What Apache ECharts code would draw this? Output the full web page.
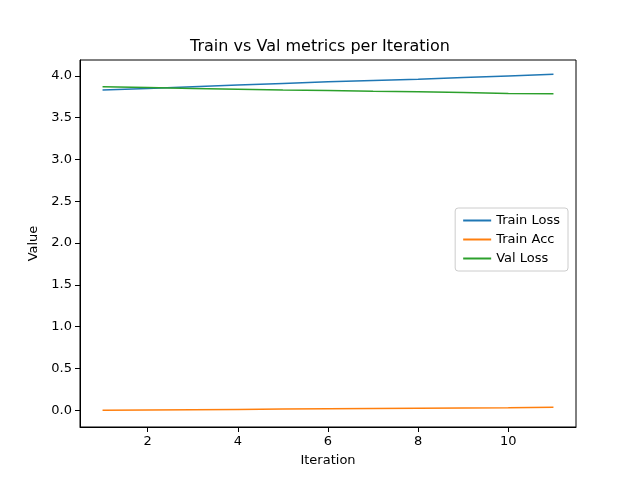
<!DOCTYPE html>
<html><head><meta charset="utf-8">
<script src="https://cdn.jsdelivr.net/npm/echarts@6/dist/echarts.min.js"></script>
<style>body{margin:0}#c{width:640px;height:480px}</style></head>
<body><div id="c"></div>
<script>
const iterations = [1,2,3,4,5,6,7,8,9,10,11];
const trainLoss = [3.83,3.85,3.87,3.89,3.91,3.93,3.945,3.96,3.98,4.00,4.02];
const trainAcc = [0.0,0.003,0.007,0.010,0.014,0.017,0.021,0.024,0.028,0.031,0.035];
const valLoss = [3.87,3.86,3.85,3.84,3.83,3.825,3.815,3.81,3.80,3.79,3.785];
const xTicks = [2,4,6,8,10];
const yTicks = [0,0.5,1,1.5,2,2.5,3,3.5,4];
const font = 'DejaVu Sans';
const mk = (name, vals, color) => ({
  name, type:'line', data: iterations.map((x,i)=>[x,vals[i]]),
  showSymbol:false, lineStyle:{color, width:1.5}, itemStyle:{color}
});
const chart = echarts.init(document.getElementById('c'));
chart.setOption({
  animation:false,
  title:{text:'Train vs Val metrics per Iteration', left:'center', top:34,
    textStyle:{fontFamily:font, fontSize:16, fontWeight:'normal', color:'#000'}},
  grid:{left:80, right:64, top:60, bottom:53, show:true, borderColor:'#000', borderWidth:1},
  legend:{orient:'vertical', right:72, top:208, padding:[6,8], itemGap:6,
    backgroundColor:'#fff', borderColor:'#ccc', borderWidth:1, borderRadius:3,
    itemWidth:28, itemHeight:2, icon:'rect',
    textStyle:{fontFamily:font, fontSize:13, color:'#000'},
    data:['Train Loss','Train Acc','Val Loss']},
  xAxis:{type:'value', min:0.5, max:11.5, name:'Iteration', nameLocation:'middle', nameGap:27,
    nameTextStyle:{fontFamily:font, fontSize:13, color:'#000'},
    axisLine:{onZero:false, lineStyle:{color:'#000'}}, splitLine:{show:false},
    axisTick:{show:true, customValues:xTicks, lineStyle:{color:'#000'}},
    axisLabel:{customValues:xTicks, fontFamily:font, fontSize:13, color:'#000'}},
  yAxis:{type:'value', min:-0.2, max:4.19, name:'Value', nameLocation:'middle', nameGap:40,
    nameTextStyle:{fontFamily:font, fontSize:13, color:'#000'},
    axisLine:{show:true, onZero:false, lineStyle:{color:'#000'}}, splitLine:{show:false},
    axisTick:{show:true, customValues:yTicks, lineStyle:{color:'#000'}},
    axisLabel:{customValues:yTicks, formatter:v=>v.toFixed(1), fontFamily:font, fontSize:13, color:'#000'}},
  series:[mk('Train Loss',trainLoss,'#1f77b4'), mk('Train Acc',trainAcc,'#ff7f0e'), mk('Val Loss',valLoss,'#2ca02c')]
});
</script></body></html>
